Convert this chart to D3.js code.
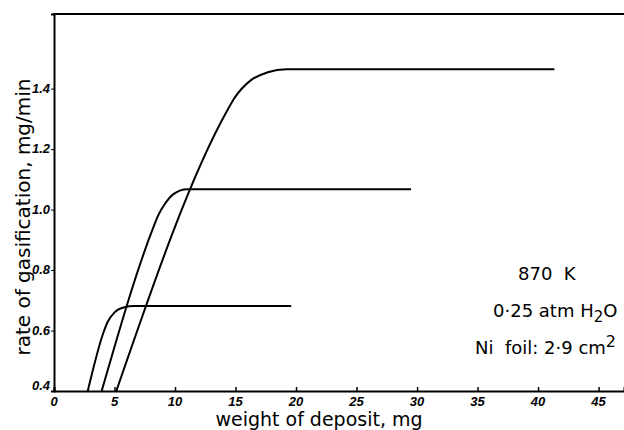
<!DOCTYPE html>
<html><head><meta charset="utf-8">
<script src="https://cdn.jsdelivr.net/npm/d3@7"></script>
<style>body{margin:0;background:#fff}svg{display:block}</style>
</head><body>
<svg id="c" width="624" height="430"></svg>
<script>
// data: [weight of deposit (mg), rate (mg/min)]
const curveA = [[2.79,0.40],[4.11,0.596],[4.44,0.629],[4.98,0.659],[5.81,0.677],[6.6,0.681],[19.6,0.681]];
const curveB = [[3.94,0.40],[8.2,0.94],[8.6,0.98],[9.1,1.015],[9.9,1.052],[11.0,1.067],[29.5,1.067]];
const curveC = [[5.15,0.40],[14.35,1.33],[14.9,1.368],[16.28,1.428],[17.66,1.454],[19.2,1.464],[41.35,1.464]];
const xTicks = [0,5,10,15,20,25,30,35,40,45];
const yTicks = [0.4,0.6,0.8,1.0,1.2,1.4];
const yTickLabels = ["0.4","0.6","0.8","1.0","1.2","1.4"];
const xTitle = "weight of deposit, mg";
const yTitle = "rate of gasification, mg/min";

const svg = d3.select("#c");
const x = d3.scaleLinear().domain([0,47.1]).range([54,624]);
const y = d3.scaleLinear().domain([0.4,1.6467]).range([391,14]);

const font = "'DejaVu Sans', sans-serif";
const tickFont = "'Liberation Sans', Arial, sans-serif";

// frame (top) + axes
svg.append("line").attr("x1",53).attr("x2",624).attr("y1",y(1.6467)).attr("y2",y(1.6467))
  .attr("stroke","#000").attr("stroke-width",2);

const xAxis = svg.append("g").attr("transform",`translate(0,${y(0.4)})`)
  .call(d3.axisTop(x).tickValues(xTicks).tickSize(4).tickFormat(""));
xAxis.select(".domain").attr("stroke-width",2);
xAxis.selectAll(".tick line").attr("stroke-width",1.5);
svg.append("g").selectAll("text").data(xTicks).join("text")
  .attr("x",d=>x(d)).attr("y",406).attr("text-anchor","middle")
  .attr("font-family",tickFont).attr("font-style","italic").attr("font-weight","bold")
  .attr("font-size",13).text(d=>d);

const yAxis = svg.append("g").attr("transform",`translate(${x(0)},0)`)
  .call(d3.axisLeft(y).tickValues(yTicks).tickSize(3).tickFormat(""));
yAxis.select(".domain").attr("stroke-width",2);
svg.append("g").selectAll("text").data(yTicks).join("text")
  .attr("x",50).attr("y",(d,i)=>y(d)+ (i===0?-1:4)).attr("text-anchor","end")
  .attr("font-family",tickFont).attr("font-style","italic").attr("font-weight","bold")
  .attr("font-size",13).text((d,i)=>yTickLabels[i]);

// titles
svg.append("text").attr("x",319).attr("y",426).attr("text-anchor","middle")
  .attr("font-family",font).attr("font-size",19).text(xTitle);
svg.append("text").attr("transform","translate(30,217) rotate(-90)").attr("text-anchor","middle")
  .attr("font-family",font).attr("font-size",20).text(yTitle);

// curves
const line = d3.line().x(d=>x(d[0])).y(d=>y(d[1])).curve(d3.curveMonotoneX);
svg.append("g").selectAll("path").data([curveA,curveB,curveC]).join("path")
  .attr("d",line).attr("fill","none").attr("stroke","#000").attr("stroke-width",2);

// annotations
const ann = svg.append("g").attr("font-family",font).attr("font-size",18);
ann.append("text").attr("x",518).attr("y",280).text("870\u00a0\u00a0K");
const t2 = ann.append("text").attr("x",493).attr("y",317);
t2.append("tspan").text("0·25 atm H");
t2.append("tspan").attr("dy",5).attr("font-size",15).text("2");
t2.append("tspan").attr("dy",-5).text("O");
const t3 = ann.append("text").attr("x",475).attr("y",354);
t3.append("tspan").text("Ni\u00a0\u00a0foil: 2·9 cm");
t3.append("tspan").attr("dy",-7).attr("font-size",16).text("2");
</script>
</body></html>
